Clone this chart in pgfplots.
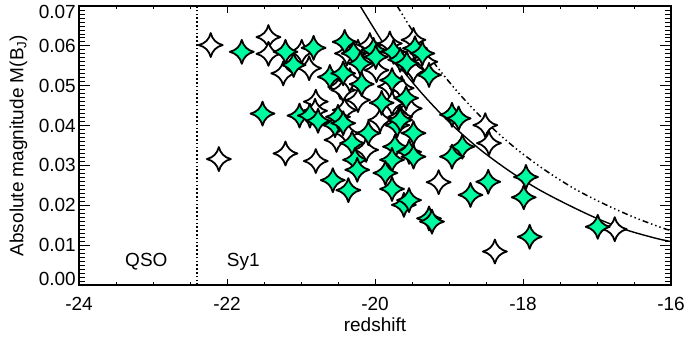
\documentclass[border=0pt]{standalone}
\usepackage{fontspec}
\setmainfont{Liberation Sans}
\usepackage{pgfplots}
\pgfplotsset{compat=1.18}
\usepackage{pgfplotstable}
\definecolor{stargreen}{RGB}{0,250,160}
\pgfdeclareplotmark{astar}{%
  \pgfpathmoveto{\pgfqpoint{0pt}{\pgfplotmarksize}}%
  \pgfpathquadraticcurveto{\pgfqpoint{0.2\pgfplotmarksize}{0.2\pgfplotmarksize}}{\pgfqpoint{\pgfplotmarksize}{0pt}}%
  \pgfpathquadraticcurveto{\pgfqpoint{0.2\pgfplotmarksize}{-0.2\pgfplotmarksize}}{\pgfqpoint{0pt}{-\pgfplotmarksize}}%
  \pgfpathquadraticcurveto{\pgfqpoint{-0.2\pgfplotmarksize}{-0.2\pgfplotmarksize}}{\pgfqpoint{-\pgfplotmarksize}{0pt}}%
  \pgfpathquadraticcurveto{\pgfqpoint{-0.2\pgfplotmarksize}{0.2\pgfplotmarksize}}{\pgfqpoint{0pt}{\pgfplotmarksize}}%
  \pgfpathclose
  \pgfusepathqfillstroke
}
\pgfplotstableread{
x y
-22.22 0.0602
-22.11 0.0316
-21.44 0.0622
-21.44 0.0580
-21.24 0.0531
-21.21 0.0330
-20.80 0.0311
-20.99 0.0585
-20.89 0.0544
-20.80 0.0460
-20.81 0.0437
-20.52 0.0364
-20.47 0.0497
-20.38 0.0581
-20.23 0.0585
-20.43 0.0489
-20.34 0.0514
-20.07 0.0602
-19.80 0.0606
-19.98 0.0539
-19.80 0.0498
-20.41 0.0439
-20.38 0.0381
-19.77 0.0456
-19.48 0.0615
-19.48 0.0539
-19.53 0.0443
-18.51 0.0401
-18.46 0.0356
-19.14 0.0258
-18.38 0.0084
-16.76 0.0140
-19.66 0.0422
-20.23 0.0464
-20.12 0.0339
-19.64 0.0494
-19.93 0.0414
-19.32 0.0560
}\whitetab
\pgfplotstableread{
x y
-21.80 0.0585
-21.52 0.0430
-21.21 0.0585
-21.10 0.0552
-20.83 0.0595
-21.02 0.0425
-20.88 0.0425
-20.77 0.0412
-20.54 0.0401
-20.61 0.0522
-20.41 0.0610
-20.29 0.0581
-20.43 0.0531
-20.20 0.0556
-20.18 0.0504
-20.02 0.0590
-19.99 0.0572
-19.75 0.0585
-19.66 0.0565
-19.46 0.0594
-19.36 0.0581
-19.27 0.0527
-19.57 0.0556
-19.77 0.0514
-19.91 0.0457
-19.70 0.0401
-19.48 0.0381
-19.73 0.0347
-19.54 0.0334
-20.09 0.0381
-18.96 0.0427
-18.87 0.0418
-18.82 0.0347
-18.96 0.0322
-20.31 0.0356
-20.27 0.0314
-20.24 0.0289
-20.36 0.0238
-20.57 0.0263
-19.77 0.0241
-19.61 0.0201
-19.54 0.0213
-19.27 0.0167
-19.23 0.0159
-18.71 0.0226
-18.47 0.0259
-17.96 0.0271
-17.99 0.0220
-17.91 0.0121
-16.99 0.0146
-19.48 0.0322
-19.77 0.0314
-19.86 0.0281
-20.50 0.0422
-20.43 0.0406
-19.66 0.0414
-19.58 0.0469
}\greentab
\begin{document}
\begin{tikzpicture}[font=\fontsize{19}{22}\selectfont]
\begin{axis}[
  scale only axis, width=592pt, height=279pt,
  xmin=-24, xmax=-16, ymin=0, ymax=0.07,
  xtick=\empty,
  ytick={0,0.01,0.02,0.03,0.04,0.05,0.06,0.07},
  yticklabels={\raisebox{6.5pt}[\height][\depth]{0.00},0.01,0.02,0.03,0.04,0.05,0.06,\raisebox{-6pt}[\height][\depth]{0.07}},
  minor y tick num=9,
  tick align=inside,
  major tick length=11.5pt, minor tick length=5.8pt,
  yticklabel style={anchor=east, inner sep=0pt, xshift=-3pt},
  every axis y label/.style={at={(axis description cs:0,0.5)}, xshift=-55.7pt, rotate=90, anchor=base},
  ylabel={Absolute magnitude M(B\textsubscript{J})},
  axis line style={line width=1.2pt},
  every tick/.style={black, line width=0.8pt},
  clip=true,
]
\addplot[black, line width=2pt, dash pattern=on 1.6pt off 2.2pt] coordinates {(-22.4,0) (-22.4,0.07)};
\addplot[black, line width=1.4pt, smooth] coordinates {
(-20.20,0.0700) (-19.80,0.0582) (-19.40,0.0488) (-19.00,0.0409) (-18.60,0.0343)
(-18.20,0.0288) (-17.80,0.0241) (-17.40,0.0202) (-17.00,0.0167) (-16.60,0.0138)
(-16.20,0.0117) (-16.00,0.0109)};
\addplot[black, line width=1.5pt, smooth, dash pattern=on 6pt off 3pt on 1.4pt off 3pt on 1.4pt off 3pt on 1.4pt off 3pt] coordinates {
(-19.70,0.0700) (-19.30,0.0582) (-18.90,0.0488) (-18.50,0.0409) (-18.10,0.0343)
(-17.70,0.0288) (-17.30,0.0241) (-16.90,0.0203) (-16.50,0.0170) (-16.10,0.0142)
(-16.00,0.0137)};
\addplot[only marks, mark=astar, mark size=12pt, mark options={fill=white, draw=black, line width=1.8pt, line join=round}] table {\whitetab};
\addplot[only marks, mark=astar, mark size=12pt, mark options={fill=stargreen, draw=black, line width=1.8pt, line join=round}] table {\greentab};
\node[anchor=base] at (axis cs:-23.09,0.0046) {QSO};
\node[anchor=base] at (axis cs:-21.78,0.0046) {Sy1};
\end{axis}
\begin{axis}[
  scale only axis, width=592pt, height=279pt,
  xmin=-24, xmax=-16, ymin=0, ymax=0.07,
  ytick=\empty,
  xtick={-24,-22,-20,-18,-16},
  xticklabels={-24,-22,-20,-18,-16},
  minor x tick num=3,
  tick align=inside,
  major tick length=6.5pt, minor tick length=3.2pt,
  xticklabel style={anchor=north, inner sep=0pt, yshift=-11.7pt},
  every axis x label/.style={at={(axis description cs:0.5,0)}, anchor=base, yshift=-46.7pt},
  xlabel={redshift},
  axis line style={line width=1.2pt},
  every tick/.style={black, line width=0.8pt},
]
\end{axis}
\pgfresetboundingbox
\path[use as bounding box] (-79pt,-53pt) rectangle (605pt,285pt);
\end{tikzpicture}
\end{document}
